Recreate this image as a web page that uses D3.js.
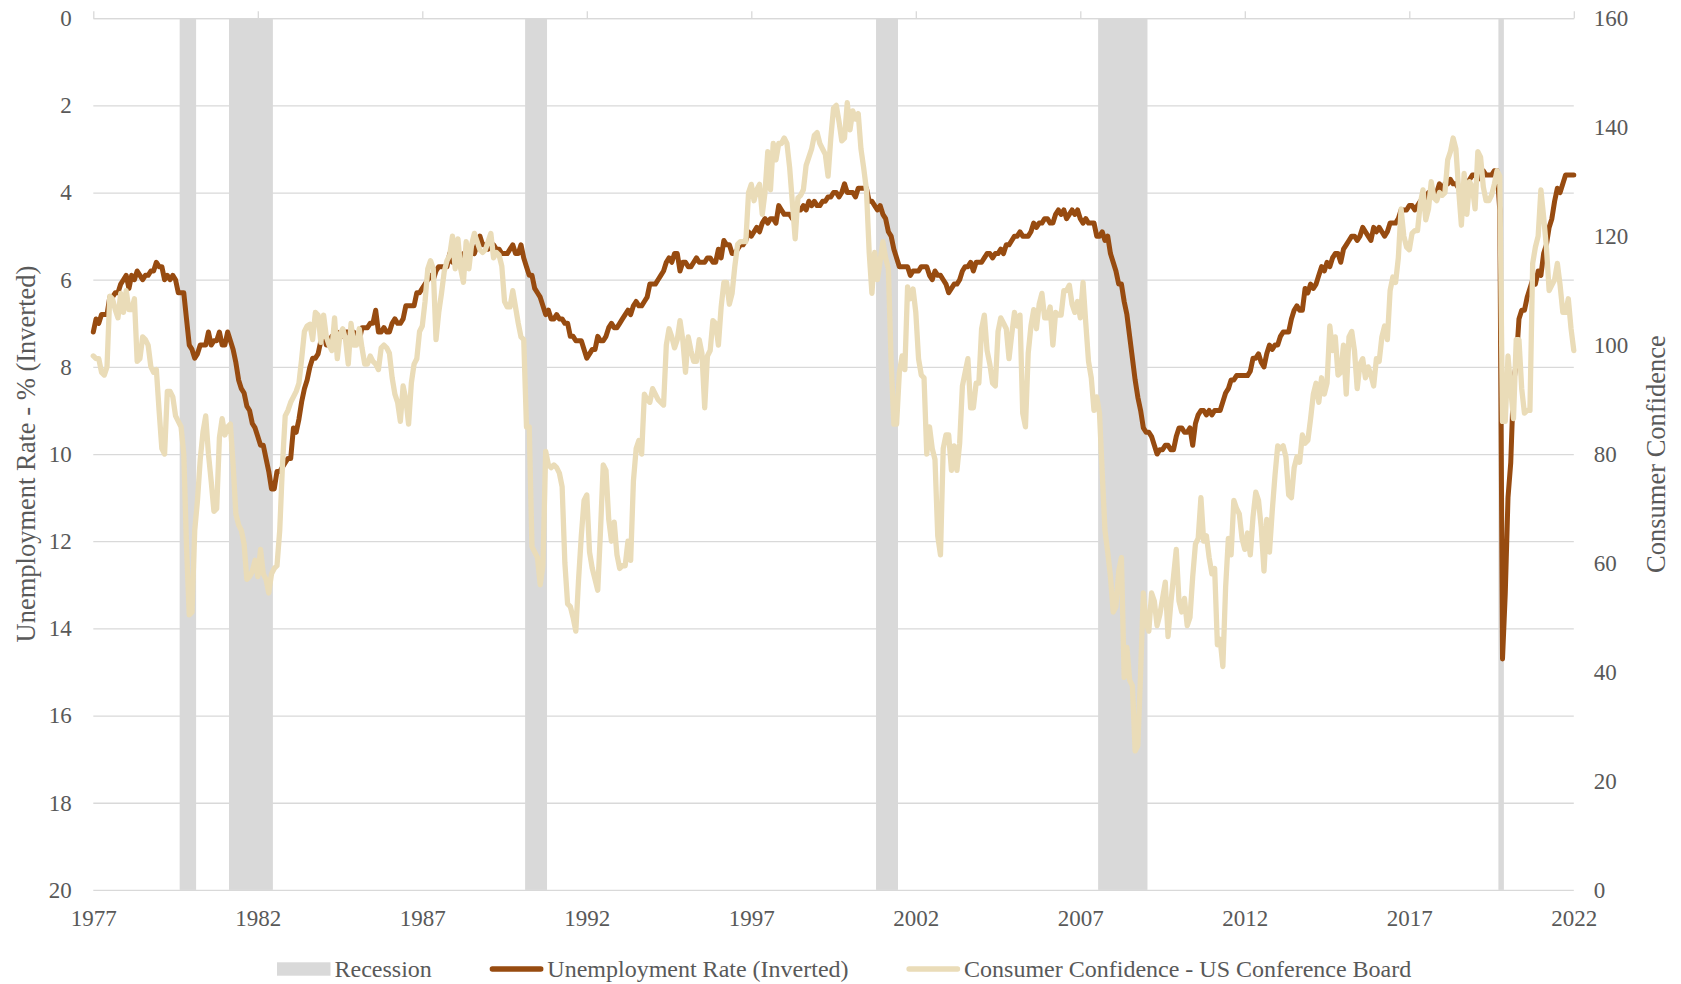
<!DOCTYPE html>
<html><head><meta charset="utf-8">
<script src="https://cdn.jsdelivr.net/npm/d3@7"></script>
<style>
html,body{margin:0;padding:0;background:#fff;}
svg{display:block;font-family:"Liberation Serif","Times New Roman",serif;}
</style></head><body>
<svg id="chart" width="1681" height="984"></svg>
<script>
// Monthly series, June 1977 .. June 2022
const startYear = 1977, startMonth = 6;

const unemployment = [
  7.2,6.9,7.0,6.8,6.8,6.8,6.4,
  6.4,6.3,6.3,6.1,6.0,5.9,6.2,5.9,6.0,5.8,5.9,6.0,
  5.9,5.9,5.8,5.8,5.6,5.7,5.7,6.0,5.9,6.0,5.9,6.0,
  6.3,6.3,6.3,6.9,7.5,7.6,7.8,7.7,7.5,7.5,7.5,7.2,
  7.5,7.4,7.4,7.2,7.5,7.5,7.2,7.4,7.6,7.9,8.3,8.5,
  8.6,8.9,9.0,9.3,9.4,9.6,9.8,9.8,10.1,10.4,10.8,10.8,
  10.4,10.4,10.3,10.2,10.1,10.1,9.4,9.5,9.2,8.8,8.5,8.3,
  8.0,7.8,7.8,7.7,7.4,7.2,7.5,7.5,7.3,7.4,7.2,7.3,
  7.3,7.2,7.2,7.3,7.2,7.4,7.4,7.1,7.1,7.1,7.0,7.0,
  6.7,7.2,7.2,7.1,7.2,7.2,7.0,6.9,7.0,7.0,6.9,6.6,
  6.6,6.6,6.6,6.3,6.3,6.2,6.1,6.0,5.9,6.0,5.8,5.7,
  5.7,5.7,5.7,5.4,5.6,5.4,5.4,5.6,5.4,5.4,5.3,5.3,
  5.4,5.2,5.0,5.2,5.2,5.3,5.2,5.2,5.3,5.3,5.4,5.4,
  5.4,5.3,5.2,5.4,5.4,5.2,5.5,5.7,5.9,5.9,6.2,6.3,
  6.4,6.6,6.8,6.7,6.9,6.9,6.8,6.9,6.9,7.0,7.0,7.3,
  7.3,7.4,7.4,7.4,7.6,7.8,7.7,7.6,7.6,7.3,7.4,7.4,
  7.3,7.1,7.0,7.1,7.1,7.0,6.9,6.8,6.7,6.8,6.6,6.5,
  6.6,6.6,6.5,6.4,6.1,6.1,6.1,6.0,5.9,5.8,5.6,5.5,
  5.6,5.4,5.4,5.8,5.6,5.6,5.7,5.7,5.6,5.5,5.6,5.6,
  5.6,5.5,5.5,5.6,5.6,5.3,5.5,5.1,5.2,5.2,5.4,5.4,
  5.3,5.2,5.2,5.1,4.9,5.0,4.9,4.8,4.9,4.7,4.6,4.7,
  4.6,4.6,4.7,4.3,4.4,4.5,4.5,4.5,4.6,4.5,4.4,4.4,
  4.3,4.4,4.2,4.3,4.2,4.3,4.3,4.2,4.2,4.1,4.1,4.0,
  4.0,4.1,4.0,3.8,4.0,4.0,4.0,4.1,3.9,3.9,3.9,3.9,
  4.2,4.2,4.3,4.4,4.3,4.5,4.6,4.9,5.0,5.3,5.5,5.7,
  5.7,5.7,5.7,5.9,5.8,5.8,5.8,5.7,5.7,5.7,5.9,6.0,
  5.8,5.9,5.9,6.0,6.1,6.3,6.2,6.1,6.1,6.0,5.8,5.7,
  5.7,5.6,5.8,5.6,5.6,5.6,5.5,5.4,5.4,5.5,5.4,5.4,
  5.3,5.4,5.2,5.2,5.1,5.0,5.0,4.9,5.0,5.0,5.0,4.9,
  4.7,4.8,4.7,4.7,4.6,4.6,4.7,4.7,4.5,4.4,4.5,4.4,
  4.6,4.5,4.4,4.5,4.4,4.6,4.7,4.6,4.7,4.7,4.7,5.0,
  5.0,4.9,5.1,5.0,5.4,5.6,5.8,6.1,6.1,6.5,6.8,7.3,
  7.8,8.3,8.7,9.0,9.4,9.5,9.5,9.6,9.8,10.0,9.9,9.9,
  9.8,9.8,9.9,9.9,9.6,9.4,9.4,9.5,9.5,9.4,9.8,9.3,
  9.1,9.0,9.0,9.1,9.0,9.1,9.0,9.0,9.0,8.8,8.6,8.5,
  8.3,8.3,8.2,8.2,8.2,8.2,8.2,8.1,7.8,7.8,7.7,7.9,
  8.0,7.7,7.5,7.6,7.5,7.5,7.3,7.2,7.2,7.2,6.9,6.7,
  6.6,6.7,6.7,6.2,6.3,6.1,6.2,6.1,5.9,5.7,5.8,5.6,
  5.7,5.5,5.4,5.4,5.6,5.3,5.2,5.1,5.0,5.0,5.1,5.0,
  4.8,4.9,5.0,5.1,4.8,4.9,4.8,4.9,5.0,4.9,4.7,4.7,
  4.7,4.6,4.4,4.4,4.4,4.3,4.3,4.4,4.3,4.2,4.2,4.1,
  4.0,4.1,4.0,4.0,3.8,4.0,3.8,3.8,3.7,3.8,3.8,3.9,
  4.0,3.8,3.8,3.7,3.6,3.6,3.7,3.6,3.5,3.6,3.6,3.6,
  3.5,3.5,4.4,14.7,13.2,11.0,10.2,8.4,7.9,6.9,6.7,6.7,
  6.4,6.2,6.0,6.1,5.8,5.9,5.4,5.2,4.8,4.6,4.2,3.9,
  4.0,3.8,3.6,3.6,3.6,3.6
];

const confidence = [
  98,97.5,97.5,95,94.5,96,109,
  108.5,106.5,105,109.5,106,110,106.5,106.5,108.5,97,97.5,101.5,
  101,100,96,95,95.5,88,81,80,91.5,91.5,90.5,87,
  86,85,80,63,50.5,51,66,71.5,79,84,87,80,
  75,69.5,70,83,86.5,83.5,85,85.5,78,69,67,66,
  63.5,57,57.5,58.5,60.5,57.5,62.5,58,57,54.5,58,59,
  59.5,66,78,87,88,89.5,90.5,91.5,93,97.5,102.5,103.5,
  103.8,101,106,105.5,100.5,105.5,101.5,100,99,105,97.5,102,
  103,101,96.5,104,100,100,103,99.5,96.5,96.5,98,97,
  96.5,95.5,99.5,100,99.5,98.5,94,91,89.5,86,92.5,90,
  85.5,93,96.5,97.5,102.5,103.5,108,114,115.5,114,101,106,
  109.5,113.5,115.5,116.5,120,114,119.5,114,111.5,119,114,118.5,
  120.5,119,117.5,117,117.5,119,120.5,116,117,116.5,114.5,108,
  107,107,110,107,104,101.5,101,85,85,63,62,61,
  56,59.5,80.5,78,77.5,78,77.5,76.5,74,60,52.5,52,
  50,47.5,57,65,71.5,72.5,62,59,57,55,66,78,
  77,68,64,67.5,61.5,59,59.5,59.5,64,60.5,75,81,
  82.5,80,91,90,89.5,92,91,90,89.5,89,100,103,
  101.5,99.5,101,104.5,101,95,101.5,99,97,97,101,98.5,
  88.5,98,99,104.5,104,100,107,111.5,111.5,107.5,109.5,114.5,
  118.5,119,119,119,128,129.5,126.5,128.5,129.5,124,128,135.5,
  128.5,137,134,137,137,138,137,132.5,126,119.5,127,127.5,
  128.5,133,134.5,136,138.5,139,137,136,135,131,138,143.5,
  144,141,137.5,138,144.5,139.5,143,141.5,142.5,136,132.5,128.5,
  117,109.5,117,112,115.5,119,116,114,97,85.5,85.5,95,
  98,95.5,110.7,108.5,110.3,106,97.5,94.5,94,80,85,81,
  79,65,61.5,81,83.5,83.5,77,81.5,77,82,92.5,95,
  97.5,88.5,88.5,93,93,103,105.5,99,96.5,93,92.5,102.5,
  105,104,103,97.5,102,106,103.5,105.5,87.5,85,98.5,103.5,
  106.5,103,107.5,109.5,105,105,107,100,106,105.5,105.5,110,
  110,111,107.5,106,108,105,111.5,104,97,94,88,90.5,
  87.5,76.5,66,62,57.5,51,52,58.5,61,39,44.5,38.5,
  37.5,25.5,26.5,40,54.5,49,47.5,54.5,53,48.5,50.5,53.5,
  56.5,46.5,52.5,57.5,62.5,53,51,53.5,48.5,50,57.5,63.5,
  64.5,72,64,65,61,58,59,45,46,41,55.5,64.5,
  61.5,71.5,70,69,64.5,62.5,65.5,61.5,68.5,73,71.5,66.5,
  58.5,68,62,69.5,76,81.5,81,81.5,79.5,72.5,72,77.5,
  79.5,78.5,83.5,82,82.5,86.5,91,93,89.5,94,91,93,
  103.5,99,101.5,94.5,95,100,91,101.5,102.5,99,92,96.5,
  97.5,94,96,94.5,92.5,97.5,97,101.5,103.5,101,110,112.5,
  111.5,116,125,120,118,117.5,120.5,121,121,126,128.5,123,
  125,130,127,126.5,128,127.5,128,134,135.5,138,136,128.5,
  122,131.5,124,130,129,125,135.5,134.5,129,126.5,126.5,127.5,
  129.5,132,131,86,86,98,92,86.5,101,101,92,87.5,
  88,88,115,118,120,128.5,123.5,118,110,111,112,115,
  111,106,106,108.5,103,99
];

// Recession months (first and last month flagged)
const recessionStart = ["1980-02","1981-08","1990-08","2001-04","2008-01","2020-03"];
const recessionEnd   = ["1980-07","1982-11","1991-03","2001-11","2009-06","2020-04"];

const tickYears  = [1977,1982,1987,1992,1997,2002,2007,2012,2017,2022];
const leftTicks  = [0,2,4,6,8,10,12,14,16,18,20];
const rightTicks = [0,20,40,60,80,100,120,140,160];

const leftTitle  = "Unemployment Rate - % (Inverted)";
const rightTitle = "Consumer Confidence";
const legendLabels = ["Recession","Unemployment Rate (Inverted)","Consumer Confidence - US Conference Board"];

const colors = { recession:"#d9d9d9", unemp:"#974b10", conf:"#eadcb8", grid:"#d9d9d9", text:"#595959" };

// ---- layout
const L = 93.3, R = 1573.8, T = 18.2, B = 889.9;
const svg = d3.select("#chart");
svg.append("rect").attr("width",1681).attr("height",984).attr("fill","#fff");

const monthIdx = s => { const [y,m] = s.split("-").map(Number); return (y-startYear)*12 + (m-startMonth); };

const x  = d3.scaleLinear().domain([0, unemployment.length-1]).range([L, R]);
const yU = d3.scaleLinear().domain([0, 20]).range([T, B]);     // inverted
const yC = d3.scaleLinear().domain([0, 160]).range([B, T]);

// gridlines
const grid = svg.append("g").attr("transform",`translate(${L},0)`)
  .call(d3.axisLeft(yU).tickValues(leftTicks).tickSize(-(R-L)).tickFormat(""));
grid.select(".domain").remove();
grid.selectAll("line").attr("stroke",colors.grid).attr("stroke-width",1.3);

// recession bars
svg.append("g").selectAll("rect").data(recessionStart).join("rect")
  .attr("x",(s)=>x(monthIdx(s)-0.5))
  .attr("width",(s,i)=>x(monthIdx(recessionEnd[i])+0.5)-x(monthIdx(s)-0.5))
  .attr("y",yU(0)).attr("height",yU(20)-yU(0))
  .attr("fill",colors.recession);

// top axis (tick marks only)
const tickIdx = tickYears.map(y => (y-startYear)*12);
const topAx = svg.append("g").attr("transform",`translate(0,${T})`)
  .call(d3.axisTop(x).tickValues(tickIdx).tickSize(7).tickSizeOuter(0).tickFormat(""));
topAx.selectAll("line,path").attr("stroke","#d9d9d9").attr("stroke-width",1.3);

// bottom labels
const botAx = svg.append("g").attr("transform",`translate(0,${B})`)
  .call(d3.axisBottom(x).tickValues(tickIdx).tickSize(0).tickPadding(20).tickFormat(i => startYear + i/12));
botAx.select(".domain").remove();

// left labels
const leftAx = svg.append("g").attr("transform",`translate(${L},0)`)
  .call(d3.axisLeft(yU).tickValues(leftTicks).tickSize(0).tickPadding(21.6));
leftAx.select(".domain").remove();

// right labels
const rightAx = svg.append("g").attr("transform",`translate(${R},0)`)
  .call(d3.axisRight(yC).tickValues(rightTicks).tickSize(0).tickPadding(20));
rightAx.select(".domain").remove();

[botAx,leftAx,rightAx].forEach(g => g.selectAll("text")
  .attr("fill",colors.text).style("font-size","23px").style("font-family",'"Liberation Serif","Times New Roman",serif'));

// lines
const lineU = d3.line().x((d,i)=>x(i)).y(d=>yU(d));
const lineC = d3.line().x((d,i)=>x(i)).y(d=>yC(d));
svg.append("path").datum(unemployment).attr("d",lineU)
  .attr("fill","none").attr("stroke",colors.unemp).attr("stroke-width",5)
  .attr("stroke-linejoin","round").attr("stroke-linecap","round");
svg.append("path").datum(confidence).attr("d",lineC)
  .attr("fill","none").attr("stroke",colors.conf).attr("stroke-width",5.3)
  .attr("stroke-linejoin","round").attr("stroke-linecap","round");

// axis titles
svg.append("text").attr("transform",`translate(26,${(T+B)/2}) rotate(-90)`)
  .attr("text-anchor","middle").attr("dy","0.35em")
  .attr("fill",colors.text).style("font-size","26.5px").text(leftTitle);
svg.append("text").attr("transform",`translate(1656,${(T+B)/2}) rotate(-90)`)
  .attr("text-anchor","middle").attr("dy","0.35em")
  .attr("fill",colors.text).style("font-size","26.5px").text(rightTitle);

// legend
const legY = 969;
let lx = 277;
const sw = 53.5;
legendLabels.forEach((lab,i) => {
  const g = svg.append("g");
  if (i === 0) {
    g.append("rect").attr("x",lx).attr("y",legY-6.7).attr("width",sw).attr("height",13.4).attr("fill",colors.recession);
  } else {
    g.append("line").attr("x1",lx+2.5).attr("x2",lx+sw-2.5).attr("y1",legY).attr("y2",legY)
      .attr("stroke", i===1 ? colors.unemp : colors.conf).attr("stroke-width",5.3).attr("stroke-linecap","round");
  }
  const t = g.append("text").attr("x",lx+sw+4).attr("y",legY).attr("dy","0.35em")
    .attr("fill",colors.text).style("font-size","24px").text(lab);
  lx = lx + sw + 4 + t.node().getComputedTextLength() + 58;
});
</script>
</body></html>
